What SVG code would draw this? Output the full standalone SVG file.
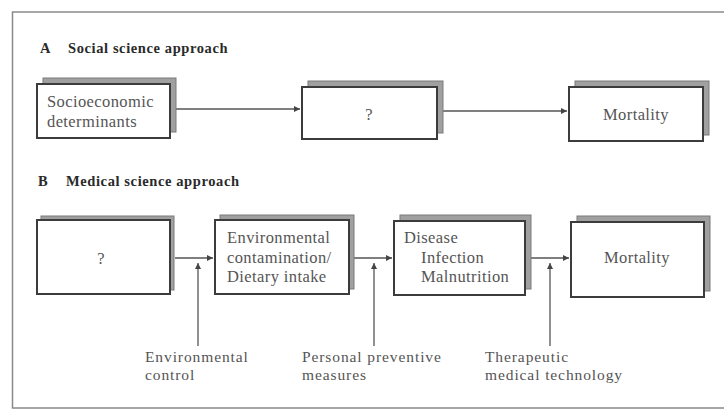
<svg xmlns="http://www.w3.org/2000/svg" width="724" height="410" viewBox="0 0 724 410">
<style>
.frame{fill:none;stroke:#8a8a8a;stroke-width:1.5}
.shadow{fill:#a0a0a0;stroke:#7a7a7a;stroke-width:1}
.box{fill:#fff;stroke:#3c3c3c;stroke-width:2}
.t{font-family:"Liberation Serif",serif;font-size:16.5px;fill:#555;letter-spacing:0.4px}
.lb{font-family:"Liberation Serif",serif;font-size:15.5px;fill:#555;letter-spacing:0.9px}
.h{font-family:"Liberation Serif",serif;font-size:14.5px;font-weight:bold;fill:#2a2a2a;letter-spacing:0.6px}
.c{fill:none;stroke:#555;stroke-width:1.3}
</style>
<defs>
<marker id="ah" viewBox="0 0 10 10" refX="10" refY="5" markerWidth="9" markerHeight="6" markerUnits="userSpaceOnUse" orient="auto">
<path d="M0,0 L10,5 L0,10 z" fill="#444"/>
</marker>
</defs>
<rect width="724" height="410" fill="#fff"/>
<path class="frame" d="M740,12 H12.5 V408 H740"/>
<text class="h" x="40" y="53">A</text>
<text class="h" x="68" y="53">Social science approach</text>
<text class="h" x="38" y="186">B</text>
<text class="h" x="66" y="186">Medical science approach</text>
<g id="connectors">
<path class="c" d="M176,109 H300" marker-end="url(#ah)"/>
<path class="c" d="M443,111 H567" marker-end="url(#ah)"/>
<path class="c" d="M175,258 H213" marker-end="url(#ah)"/>
<path class="c" d="M354,258 H392" marker-end="url(#ah)"/>
<path class="c" d="M531,258 H569" marker-end="url(#ah)"/>
<path class="c" d="M198,346 V263" marker-end="url(#ah)"/>
<path class="c" d="M374,346 V263" marker-end="url(#ah)"/>
<path class="c" d="M550,346 V263" marker-end="url(#ah)"/>
</g>
<g id="a1">
<rect class="shadow" x="43" y="78" width="133" height="54"/>
<rect class="box" x="37" y="84" width="133" height="54"/>
<text class="t" x="47" y="107">Socioeconomic</text>
<text class="t" x="47" y="127">determinants</text>
</g>
<g id="a2">
<rect class="shadow" x="308" y="81" width="135" height="52"/>
<rect class="box" x="302" y="87" width="135" height="52"/>
<text class="t" x="369" y="120" text-anchor="middle">?</text>
</g>
<g id="a3">
<rect class="shadow" x="575" y="81" width="134" height="54"/>
<rect class="box" x="569" y="87" width="134" height="54"/>
<text class="t" x="636" y="120" text-anchor="middle">Mortality</text>
</g>
<g id="b1">
<rect class="shadow" x="41" y="216" width="133" height="74"/>
<rect class="box" x="37" y="220" width="133" height="74"/>
<text class="t" x="101" y="264" text-anchor="middle">?</text>
</g>
<g id="b2">
<rect class="shadow" x="220" y="215" width="134" height="74"/>
<rect class="box" x="215" y="220" width="134" height="74"/>
<text class="t" x="227" y="243">Environmental</text>
<text class="t" x="227" y="263">contamination/</text>
<text class="t" x="227" y="282">Dietary intake</text>
</g>
<g id="b3">
<rect class="shadow" x="400" y="215" width="131" height="74"/>
<rect class="box" x="394" y="221" width="131" height="74"/>
<text class="t" x="404" y="243">Disease</text>
<text class="t" x="421" y="263">Infection</text>
<text class="t" x="421" y="282">Malnutrition</text>
</g>
<g id="b4">
<rect class="shadow" x="577" y="216" width="133" height="75"/>
<rect class="box" x="571" y="222" width="133" height="75"/>
<text class="t" x="637" y="263" text-anchor="middle">Mortality</text>
</g>
<g id="l1">
<text class="lb" x="145" y="362">Environmental</text>
<text class="lb" x="145" y="380">control</text>
</g>
<g id="l2">
<text class="lb" x="302" y="362">Personal preventive</text>
<text class="lb" x="302" y="380">measures</text>
</g>
<g id="l3">
<text class="lb" x="485" y="362">Therapeutic</text>
<text class="lb" x="485" y="380">medical technology</text>
</g>
</svg>
